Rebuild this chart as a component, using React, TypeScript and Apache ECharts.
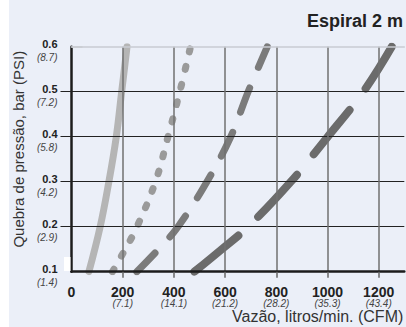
import React, { useEffect, useRef } from 'react';
import * as echarts from 'echarts';

const xTicks = [0, 200, 400, 600, 800, 1000, 1200];
const xCfm = ['', '(7.1)', '(14.1)', '(21.2)', '(28.2)', '(35.3)', '(43.4)'];
const yTicks = [0.1, 0.2, 0.3, 0.4, 0.5, 0.6];
const yPsi = ['(1.4)', '(2.9)', '(4.2)', '(5.8)', '(7.2)', '(8.7)'];

const solidLight = [[68, 0.1], [112, 0.2], [146, 0.3], [175, 0.4], [196, 0.5], [217, 0.6]];
const dotted = [[160, 0.1], [210, 0.15], [256, 0.2], [328, 0.3], [377, 0.4], [423, 0.5], [465, 0.6]];
const dashShort = [[255, 0.1], [340, 0.15], [416, 0.2], [529, 0.3], [622, 0.4], [690, 0.5], [765, 0.6]];
const dashLong = [[480, 0.1], [587, 0.15], [690, 0.2], [857, 0.3], [1001, 0.4], [1140, 0.5], [1251, 0.6]];

const FONT = 'Liberation Sans, Arial, Helvetica, sans-serif';

export default function App() {
  const ref = useRef<HTMLDivElement>(null);
  useEffect(() => {
    if (!ref.current) return;
    const chart = echarts.init(ref.current, undefined, { renderer: 'svg' });
    const mkLine = (data: number[][], color: string, width: number, type: any, z: number) => ({
      type: 'line',
      data,
      smooth: 0.4,
      showSymbol: false,
      symbol: 'none',
      z,
      lineStyle: { color, width, type, cap: 'round', join: 'round' },
    });
    chart.setOption({
      animation: false,
      backgroundColor: '#ebeff8',
      textStyle: { fontFamily: FONT },
      title: {
        text: 'Espiral 2 m',
        left: 307,
        top: 12,
        padding: 0,
        textStyle: { fontSize: 18, fontWeight: 'bold', color: '#222', fontFamily: FONT },
      },
      grid: { left: 71.5, top: 46.7, right: 1.7, bottom: 55.3, outerBoundsMode: 'none', containLabel: false },
      xAxis: [
        {
          type: 'value',
          min: 0,
          max: 1300,
          interval: 200,
          z: 5,
          axisLine: { show: true, onZero: false, lineStyle: { color: '#1c1c1c', width: 2.5 } },
          axisTick: { show: true, length: 6, customValues: [200, 400, 600, 800, 1000, 1200], lineStyle: { color: '#666', width: 1.5 } },
          splitLine: { show: true, lineStyle: { color: '#717171', width: 1.5 } },
          axisLabel: {
            margin: 13,
            showMaxLabel: false,
            formatter: (v: number) => {
              const i = xTicks.indexOf(Math.round(v));
              if (i < 0) return '';
              return i === 0 ? `{a|0}` : `{a|${xTicks[i]}}\n{b|${xCfm[i]}}`;
            },
            rich: {
              a: { fontSize: 14, fontWeight: 'bold', color: '#222', lineHeight: 14, fontFamily: FONT },
              b: { fontSize: 10, fontStyle: 'italic', color: '#444', lineHeight: 10, fontFamily: FONT },
            },
          },
          name: 'Vazão, litros/min. (CFM)',
          nameLocation: 'end',
          nameGap: -1,
          nameTextStyle: { fontSize: 16, color: '#333', align: 'right', verticalAlign: 'top', padding: [37, 0, 0, 0], fontFamily: FONT },
        },
        {
          type: 'value',
          position: 'top',
          min: 0,
          max: 1300,
          z: 5,
          axisLine: { show: true, onZero: false, lineStyle: { color: '#c9ccd2', width: 1.5 } },
          axisTick: { show: false },
          axisLabel: { show: false },
          splitLine: { show: false },
        },
      ],
      yAxis: [
        {
          type: 'value',
          min: 0.1,
          max: 0.6,
          interval: 0.1,
          z: 5,
          axisLine: { show: true, onZero: false, lineStyle: { color: '#1c1c1c', width: 2.5 } },
          axisTick: { show: true, length: 11, customValues: [0.2, 0.3, 0.4, 0.5], lineStyle: { color: '#222', width: 1 } },
          splitLine: { show: true, lineStyle: { color: '#222', width: 1 } },
          axisLabel: {
            margin: 14,
            customValues: [0.1, 0.2, 0.3, 0.4, 0.5, 0.6],
            formatter: (v: number) => {
              const r = Math.round(v * 10) / 10;
              const i = yTicks.indexOf(r);
              if (i < 0) return '';
              return `{a|${yTicks[i].toFixed(1)}}\n{b|${yPsi[i]}}`;
            },
            rich: {
              a: { fontSize: 11, fontWeight: 'bold', color: '#222', lineHeight: 21, align: 'right', fontFamily: FONT },
              b: { fontSize: 10, fontStyle: 'italic', color: '#444', lineHeight: 5, align: 'right', fontFamily: FONT },
            },
          },
          name: 'Quebra de pressão, bar (PSI)',
          nameLocation: 'middle',
          nameRotate: 90,
          nameGap: 36,
          nameTextStyle: { fontSize: 15, color: '#333', fontFamily: FONT, padding: [0, 0, 0, 20] },
        },
        {
          type: 'value',
          min: 0.1,
          max: 0.6,
          interval: 0.1,
          z: 5,
          axisLine: { show: false },
          axisTick: { show: true, length: 11, customValues: [0.6], lineStyle: { color: '#c9ccd2', width: 1.5 } },
          axisLabel: { show: false },
          splitLine: { show: false },
        },
      ],
      graphic: [
        { type: 'rect', left: 0, top: 0, shape: { width: 9, height: 327 }, style: { fill: '#ffffff' }, z: 100 },
        { type: 'rect', left: 64, top: 257, shape: { width: 6.5, height: 14 }, style: { fill: '#ffffff' }, z: 100 },
      ],
      series: [
        mkLine(solidLight, '#b5b5b5', 7, 'solid', 1),
        mkLine(dotted, '#9a9a9a', 7, [3, 15], 1),
        mkLine(dashShort, '#7b7b7b', 7, [26, 22], 1),
        mkLine(dashLong, '#6b6b6b', 8, [57, 27], 1),
      ],
    });
    return () => chart.dispose();
  }, []);
  return <div ref={ref} style={{ position: 'absolute', left: 0, top: 0, width: 406, height: 327 }} />;
}
